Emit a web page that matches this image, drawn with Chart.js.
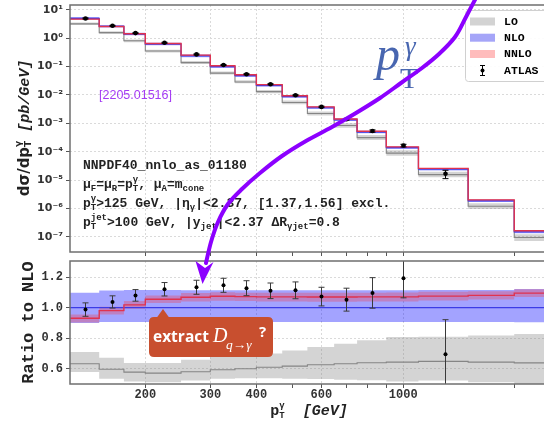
<!DOCTYPE html>
<html lang="en">
<head>
<meta charset="utf-8">
<title>Photon + jet cross section</title>
<script src="https://cdn.jsdelivr.net/npm/chart.js@4.4.1/dist/chart.umd.min.js"></script>
<style>
  html, body { margin: 0; padding: 0; background: #fff; overflow: hidden; }
  #wrap { position: relative; width: 544px; height: 423px; overflow: hidden; }
  #wrap canvas { position: absolute; left: 0; top: 0; }
</style>
</head>
<body>
<div id="wrap">
  <canvas id="xsecChart" width="560" height="423"></canvas>
  <canvas id="ratioChart" width="560" height="423"></canvas>
</div>
<script>
// pT(gamma) bins, GeV
const binEdges = [125, 150, 175, 200, 250, 300, 350, 400, 470, 550, 650, 750, 900, 1100, 1500, 2000, 2500];

// NLO cross section per bin, pb/GeV
const nloXsec = [5.07, 2.65, 1.41, 0.62, 0.238, 0.0995, 0.048, 0.0216, 0.0088, 0.00355, 0.00133, 4.9e-4, 1.38e-4, 2.4e-5, 1.85e-6, 1.48e-7];

// theory curves and scale bands, relative to NLO
const nloCentral = [1, 1, 1, 1, 1, 1, 1, 1, 1, 1, 1, 1, 1, 1, 1, 1];
const nloLow  = [0.900, 0.905, 0.906, 0.906, 0.906, 0.906, 0.906, 0.906, 0.906, 0.906, 0.906, 0.906, 0.906, 0.906, 0.906, 0.904];
const nloHigh = [1.098, 1.112, 1.115, 1.115, 1.114, 1.114, 1.113, 1.113, 1.113, 1.113, 1.113, 1.113, 1.114, 1.115, 1.116, 1.122];
const nnloCentral = [0.930, 0.980, 1.018, 1.055, 1.068, 1.074, 1.072, 1.070, 1.070, 1.069, 1.069, 1.070, 1.070, 1.075, 1.080, 1.095];
const nnloLow  = [0.902, 0.955, 0.993, 1.030, 1.040, 1.045, 1.043, 1.040, 1.040, 1.039, 1.039, 1.040, 1.040, 1.047, 1.053, 1.070];
const nnloHigh = [0.955, 1.005, 1.043, 1.080, 1.095, 1.100, 1.098, 1.098, 1.098, 1.098, 1.098, 1.098, 1.099, 1.103, 1.107, 1.120];
const loCentral = [0.633, 0.597, 0.578, 0.571, 0.580, 0.593, 0.600, 0.610, 0.617, 0.626, 0.633, 0.639, 0.643, 0.648, 0.643, 0.638];
const loLow  = [0.578, 0.534, 0.517, 0.512, 0.523, 0.534, 0.538, 0.537, 0.535, 0.532, 0.528, 0.524, 0.517, 0.523, 0.512, 0.480];
const loHigh = [0.709, 0.672, 0.637, 0.637, 0.659, 0.676, 0.687, 0.700, 0.720, 0.742, 0.764, 0.786, 0.807, 0.810, 0.818, 0.828];

// ATLAS measurement: bin centres, data/NLO and total uncertainty
const atlasPt = [137.5, 162.5, 187.5, 225, 275, 325, 375, 435, 510, 600, 700, 825, 1000, 1300];
const atlasRatio = [0.987, 1.037, 1.080, 1.120, 1.133, 1.146, 1.127, 1.110, 1.113, 1.072, 1.052, 1.096, 1.192, 0.694];
const atlasRatioErr = [0.044, 0.040, 0.038, 0.044, 0.046, 0.046, 0.049, 0.051, 0.055, 0.061, 0.075, 0.100, 0.128, 0.227];

// axis ticks
const xTicks = [200, 300, 400, 500, 600, 700, 800, 900, 1000, 2000];
const xTickLabels = ['200', '300', '400', '', '600', '', '', '', '1000', ''];
const xMajor = [200, 300, 400, 600, 1000];
const yTicksTop = [1e-7, 1e-6, 1e-5, 1e-4, 1e-3, 1e-2, 1e-1, 1, 10];
const yTickLabelsTop = ['10⁻⁷', '10⁻⁶', '10⁻⁵', '10⁻⁴', '10⁻³', '10⁻²', '10⁻¹', '10⁰', '10¹'];
const yTicksRatio = [0.6, 0.8, 1.0, 1.2];
const yTickLabelsRatio = ['0.6', '0.8', '1.0', '1.2'];

const seriesNames = ['LO', 'NLO', 'NNLO', 'ATLAS'];

const atlasXsec = atlasRatio.map((r, i) => r * nloXsec[i]);
const atlasXsecErr = atlasRatioErr.map((e, i) => e * nloXsec[i]);

const GRID = '#dadada';
const TICK = '#555';
const MONO = "'Liberation Mono', 'DejaVu Sans Mono', monospace";
const SERIF = "'Liberation Serif', 'DejaVu Serif', serif";

// histogram outline: two points per bin
function steps(vals, scaleBy) {
  const pts = [];
  vals.forEach((v, i) => {
    const y = scaleBy ? v * scaleBy[i] : v;
    pts.push({ x: binEdges[i], y: y }, { x: binEdges[i + 1], y: y });
  });
  return pts;
}
function lineSet(data, color, width) {
  return { data, borderColor: color, borderWidth: width, pointRadius: 0, fill: false, tension: 0 };
}
function bandSet(data, color) {
  return { data, borderColor: 'rgba(0,0,0,0)', borderWidth: 0, backgroundColor: color, pointRadius: 0, fill: '+1', tension: 0 };
}
function edgeSet(data) {
  return { data, borderColor: 'rgba(0,0,0,0)', borderWidth: 0, pointRadius: 0, fill: false, tension: 0 };
}
// first dataset ends up on top
function theorySets(scaleBy) {
  return [
    lineSet(steps(nnloCentral, scaleBy), '#e0334f', 1.4),
    lineSet(steps(nloCentral, scaleBy), '#3b3be6', 1.2),
    lineSet(steps(loCentral, scaleBy), '#858585', 1.1),
    bandSet(steps(nnloHigh, scaleBy), 'rgba(255,40,40,0.28)'),
    edgeSet(steps(nnloLow, scaleBy)),
    bandSet(steps(loHigh, scaleBy), 'rgba(120,120,120,0.32)'),
    edgeSet(steps(loLow, scaleBy)),
    bandSet(steps(nloHigh, scaleBy), 'rgba(0,0,255,0.36)'),
    edgeSet(steps(nloLow, scaleBy))
  ];
}

function xScale(showLabels, height) {
  return {
    type: 'logarithmic', min: 125, max: 2500, bounds: 'data',
    afterBuildTicks: s => { s.ticks = xTicks.map(v => ({ value: v })); s.min = 125; s.max = 2500; },
    afterFit: s => { s.height = height; s.paddingLeft = 0; s.paddingRight = 0; },
    ticks: {
      display: showLabels, autoSkip: false, maxRotation: 0, minRotation: 0, padding: 0, color: '#333',
      font: { family: MONO, size: 12, weight: 'bold' },
      callback: (v, i) => xTickLabels[i]
    },
    grid: {
      color: c => (c.tick && xMajor.includes(c.tick.value)) ? GRID : 'rgba(0,0,0,0)',
      tickColor: TICK, tickLength: 4, lineWidth: 1
    },
    border: { display: false, dash: [2, 2] }
  };
}

// rich text with sub/superscripts; parts with stack:true sit over the previous part
function drawRich(ctx, parts, x, y, measureOnly) {
  let cx = x, lastStart = x;
  for (const p of parts) {
    ctx.font = p.f;
    const w = ctx.measureText(p.t).width;
    const px = p.stack ? lastStart : cx;
    if (!measureOnly) ctx.fillText(p.t, px, y + (p.dy || 0));
    if (p.stack) cx = Math.max(cx, px + w);
    else { lastStart = px; cx = px + w; }
  }
  return cx - x;
}
function drawRichCentered(ctx, parts, cx, y) {
  const w = drawRich(ctx, parts, 0, 0, true);
  drawRich(ctx, parts, cx - w / 2, y);
}

function drawFrame(chart) {
  const { ctx, chartArea: a } = chart;
  ctx.save();
  ctx.strokeStyle = '#6f6f6f';
  ctx.lineWidth = 1.5;
  ctx.strokeRect(a.left, a.top, a.right - a.left, a.bottom - a.top);
  ctx.restore();
}

function drawAtlas(chart, vals, errs, barColor, r) {
  const { ctx, chartArea: a, scales } = chart;
  ctx.save();
  ctx.beginPath();
  ctx.rect(a.left, a.top, a.right - a.left, a.bottom - a.top);
  ctx.clip();
  ctx.strokeStyle = barColor;
  ctx.lineWidth = 1;
  vals.forEach((v, i) => {
    const px = Math.round(scales.x.getPixelForValue(atlasPt[i])) + 0.5;
    const py = scales.y.getPixelForValue(v);
    const hi = scales.y.getPixelForValue(v + errs[i]);
    const lo = scales.y.getPixelForValue(v - errs[i]);
    ctx.beginPath();
    ctx.moveTo(px, hi); ctx.lineTo(px, lo);
    ctx.moveTo(px - 3, hi); ctx.lineTo(px + 3, hi);
    ctx.moveTo(px - 3, lo); ctx.lineTo(px + 3, lo);
    ctx.stroke();
    ctx.fillStyle = '#000';
    ctx.beginPath();
    ctx.arc(px, py, r, 0, Math.PI * 2);
    ctx.fill();
  });
  ctx.restore();
}

function roundRectPath(ctx, x, y, w, h, r) {
  ctx.beginPath();
  ctx.moveTo(x + r, y);
  ctx.lineTo(x + w - r, y); ctx.quadraticCurveTo(x + w, y, x + w, y + r);
  ctx.lineTo(x + w, y + h - r); ctx.quadraticCurveTo(x + w, y + h, x + w - r, y + h);
  ctx.lineTo(x + r, y + h); ctx.quadraticCurveTo(x, y + h, x, y + h - r);
  ctx.lineTo(x, y + r); ctx.quadraticCurveTo(x, y, x + r, y);
  ctx.closePath();
}

function drawLegend(ctx) {
  ctx.save();
  roundRectPath(ctx, 465.5, 10.5, 110, 71, 3);
  ctx.fillStyle = 'rgba(255,255,255,0.92)';
  ctx.fill();
  ctx.strokeStyle = '#d0d0d0';
  ctx.lineWidth = 1;
  ctx.stroke();
  const patches = ['#d3d3d3', '#a5a5f8', '#ffbcbc'];
  const rowY = [21.5, 37.7, 54, 70.5];
  patches.forEach((c, i) => {
    ctx.fillStyle = c;
    ctx.fillRect(470, rowY[i] - 4, 25, 8);
  });
  // errorbar marker
  ctx.strokeStyle = '#000';
  ctx.beginPath();
  ctx.moveTo(482.5, rowY[3] - 5); ctx.lineTo(482.5, rowY[3] + 5);
  ctx.moveTo(480, rowY[3] - 5); ctx.lineTo(485, rowY[3] - 5);
  ctx.moveTo(480, rowY[3] + 5); ctx.lineTo(485, rowY[3] + 5);
  ctx.stroke();
  ctx.fillStyle = '#000';
  ctx.beginPath(); ctx.arc(482.5, rowY[3], 2, 0, Math.PI * 2); ctx.fill();
  ctx.font = 'bold 11.5px ' + MONO;
  ctx.textBaseline = 'middle';
  seriesNames.forEach((n, i) => ctx.fillText(n, 504, rowY[i] + 0.5));
  ctx.restore();
}

const xsecDecor = {
  id: 'xsecDecor',
  afterDatasetsDraw(chart) {
    drawAtlas(chart, atlasXsec, atlasXsecErr, '#000', 2.3);
  },
  afterDraw(chart) {
    const ctx = chart.ctx;
    drawFrame(chart);

    // y axis title
    ctx.save();
    ctx.translate(25, 128);
    ctx.rotate(-Math.PI / 2);
    ctx.fillStyle = '#222';
    ctx.textBaseline = 'middle';
    drawRichCentered(ctx, [
      { t: 'dσ/dp', f: "bold 15px 'DejaVu Sans'" },
      { t: 'T', f: "bold 9px 'DejaVu Sans'", dy: 4 },
      { t: 'γ', f: "bold 9px 'DejaVu Sans'", dy: -6, stack: true },
      { t: ' [pb/GeV]', f: 'italic bold 15px ' + MONO }
    ], 0, 0);
    ctx.restore();

    // reference tag
    ctx.save();
    ctx.fillStyle = '#a53cf4';
    ctx.font = "12.5px 'Liberation Sans', Arial, sans-serif";
    ctx.textBaseline = 'middle';
    ctx.fillText('[2205.01516]', 99, 95.5);
    ctx.restore();

    // setup notes
    const M = 'bold 13px ' + MONO, S = 'bold 9px ' + MONO;
    const sub = t => ({ t, f: S, dy: 3 });
    const sup = t => ({ t, f: S, dy: -6, stack: true });
    const txt = t => ({ t, f: M });
    ctx.save();
    ctx.fillStyle = '#222';
    ctx.textBaseline = 'alphabetic';
    drawRich(ctx, [txt('NNPDF40_nnlo_as_01180')], 83, 169);
    drawRich(ctx, [txt('μ'), sub('F'), txt('=μ'), sub('R'), txt('=p'), sub('T'), sup('γ'),
      txt(', μ'), sub('A'), txt('=m'), sub('cone')], 83, 188);
    drawRich(ctx, [txt('p'), sub('T'), sup('γ'), txt('>125 GeV, |η'), sub('γ'),
      txt('|<2.37, [1.37,1.56] excl.')], 83, 207);
    drawRich(ctx, [txt('p'), sub('T'), sup('jet'), txt('>100 GeV, |y'), sub('jet'),
      txt('|<2.37 ΔR'), sub('γjet'), txt('=0.8')], 83, 225.5);
    ctx.restore();

    drawLegend(ctx);

    // large observable label
    ctx.save();
    ctx.fillStyle = '#4866b0';
    ctx.textBaseline = 'alphabetic';
    ctx.font = 'italic 48px ' + SERIF;
    ctx.fillText('p', 376, 70);
    ctx.font = '30px ' + SERIF;
    ctx.fillText('T', 400, 88);
    ctx.font = 'italic 27px ' + SERIF;
    ctx.fillText('γ', 405, 55);
    ctx.restore();
  }
};

// smooth curve through points (Catmull-Rom)
function smoothPath(ctx, pts) {
  ctx.moveTo(pts[0][0], pts[0][1]);
  for (let i = 0; i < pts.length - 1; i++) {
    const p0 = pts[Math.max(i - 1, 0)], p1 = pts[i], p2 = pts[i + 1], p3 = pts[Math.min(i + 2, pts.length - 1)];
    ctx.bezierCurveTo(
      p1[0] + (p2[0] - p0[0]) / 6, p1[1] + (p2[1] - p0[1]) / 6,
      p2[0] - (p3[0] - p1[0]) / 6, p2[1] - (p3[1] - p1[1]) / 6,
      p2[0], p2[1]);
  }
}

const arrowPath = [[479, -8], [466, 17], [455, 37], [439, 54], [422, 68], [401, 83], [380, 98],
  [356, 113], [332, 127], [306, 141], [282, 156], [260, 173], [242, 189], [228, 204],
  [218, 222], [211, 242], [206, 263]];

const ratioDecor = {
  id: 'ratioDecor',
  afterDatasetsDraw(chart) {
    drawAtlas(chart, atlasRatio, atlasRatioErr, '#3a3a3a', 2);
  },
  afterDraw(chart) {
    const ctx = chart.ctx;
    drawFrame(chart);

    ctx.save();
    ctx.fillStyle = '#222';
    ctx.translate(29, 322.5);
    ctx.rotate(-Math.PI / 2);
    ctx.font = 'bold 17px ' + MONO;
    ctx.textAlign = 'center';
    ctx.textBaseline = 'middle';
    ctx.fillText('Ratio to NLO', 0, 0);
    ctx.restore();

    // x axis title
    ctx.save();
    ctx.fillStyle = '#222';
    ctx.textBaseline = 'alphabetic';
    drawRichCentered(ctx, [
      { t: 'p', f: 'bold 15px ' + MONO },
      { t: 'T', f: 'bold 9px ' + MONO, dy: 3 },
      { t: 'γ', f: 'bold 9px ' + MONO, dy: -7, stack: true },
      { t: '  [GeV]', f: 'italic bold 15px ' + MONO }
    ], 309, 415);
    ctx.restore();

    // callout
    ctx.save();
    ctx.fillStyle = '#c84f2f';
    roundRectPath(ctx, 149, 317, 124, 40, 5);
    ctx.fill();
    ctx.beginPath();
    ctx.moveTo(156.5, 318); ctx.lineTo(163, 309); ctx.lineTo(169.5, 318);
    ctx.closePath();
    ctx.fill();
    ctx.fillStyle = '#fff';
    ctx.textBaseline = 'alphabetic';
    ctx.font = "bold 15.5px 'Open Sans', sans-serif";
    ctx.fillText('extract', 153, 342);
    ctx.font = 'italic 20px ' + SERIF;
    ctx.fillText('D', 213, 342);
    ctx.font = 'italic 13.5px ' + SERIF;
    ctx.fillText('q→γ', 226, 349);
    ctx.font = "bold 15px 'Open Sans', sans-serif";
    ctx.fillText('?', 259, 337);
    ctx.restore();

    // curved arrow
    ctx.save();
    ctx.strokeStyle = '#8c00ff';
    ctx.fillStyle = '#8c00ff';
    ctx.lineWidth = 4;
    ctx.lineCap = 'round';
    ctx.beginPath();
    smoothPath(ctx, arrowPath);
    ctx.stroke();
    ctx.beginPath();
    ctx.moveTo(202.5, 284);
    ctx.lineTo(195.5, 261);
    ctx.lineTo(205, 268);
    ctx.lineTo(213.5, 262);
    ctx.closePath();
    ctx.fill();
    ctx.restore();
  }
};

const baseOptions = {
  responsive: false,
  animation: false,
  devicePixelRatio: 1,
  events: [],
  plugins: { legend: { display: false }, tooltip: { enabled: false } }
};

new Chart(document.getElementById('xsecChart'), {
  type: 'line',
  data: { datasets: theorySets(nloXsec) },
  options: Object.assign({}, baseOptions, {
    layout: { padding: { top: 5, right: 10, bottom: 163, left: 0 } },
    scales: {
      x: xScale(false, 8),
      y: {
        type: 'logarithmic', min: 2.9e-8, max: 14.9, bounds: 'data',
        afterBuildTicks: s => { s.ticks = yTicksTop.map(v => ({ value: v })); s.min = 2.9e-8; s.max = 14.9; },
        afterFit: s => { s.width = 70; s.paddingTop = 0; s.paddingBottom = 0; },
        ticks: {
          autoSkip: false, padding: 3, color: '#333',
          font: { family: 'DejaVu Sans', size: 11, weight: 'bold' },
          callback: (v, i) => yTickLabelsTop[i]
        },
        grid: { color: GRID, tickColor: TICK, tickLength: 4 },
        border: { display: false, dash: [2, 2] }
      }
    }
  }),
  plugins: [xsecDecor]
});

new Chart(document.getElementById('ratioChart'), {
  type: 'line',
  data: { datasets: theorySets(null) },
  options: Object.assign({}, baseOptions, {
    layout: { padding: { top: 261, right: 10, bottom: 0, left: 0 } },
    scales: {
      x: xScale(true, 39),
      y: {
        type: 'linear', min: 0.5, max: 1.305, bounds: 'data',
        afterBuildTicks: s => { s.ticks = yTicksRatio.map(v => ({ value: v })); s.min = 0.5; s.max = 1.305; },
        afterFit: s => { s.width = 70; s.paddingTop = 0; s.paddingBottom = 0; },
        ticks: {
          autoSkip: false, padding: 3, color: '#333',
          font: { family: MONO, size: 12, weight: 'bold' },
          callback: (v, i) => yTickLabelsRatio[i]
        },
        grid: { color: GRID, tickColor: TICK, tickLength: 4 },
        border: { display: false, dash: [2, 2] }
      }
    }
  }),
  plugins: [ratioDecor]
});
</script>
</body>
</html>
